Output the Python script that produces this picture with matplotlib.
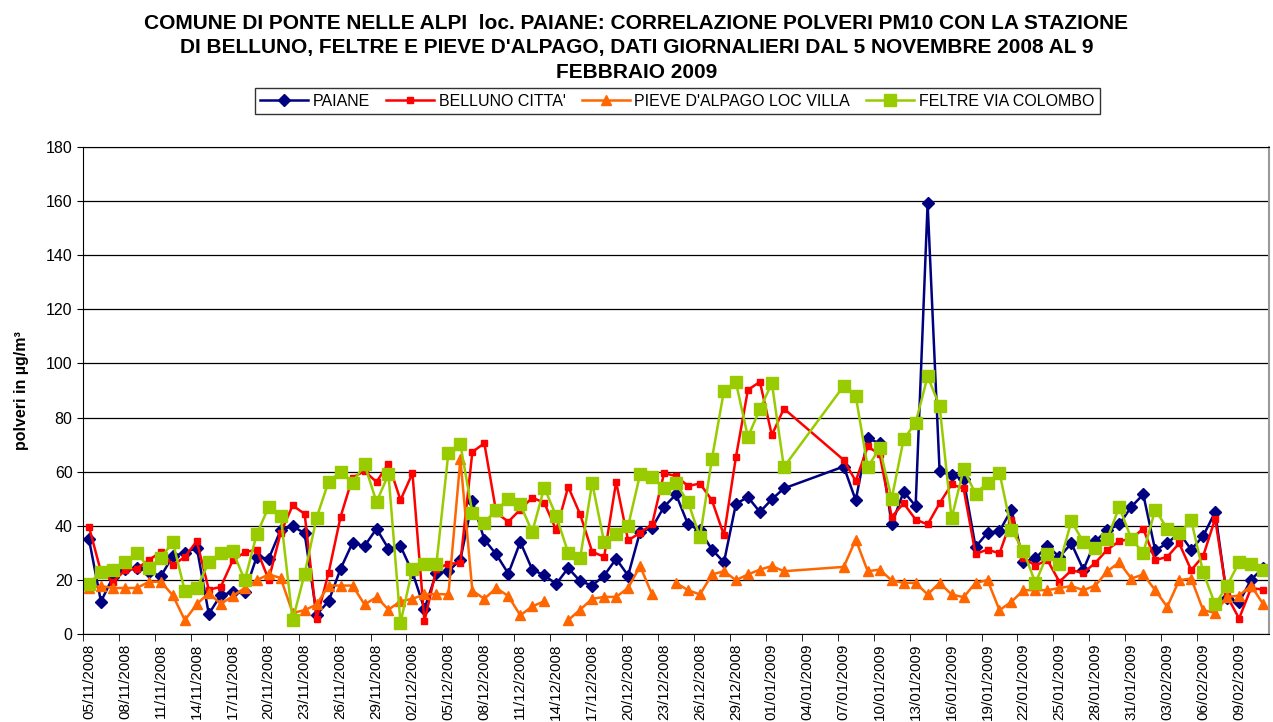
"""
PM10 Paiane vs Belluno / Feltre / Pieve d'Alpago, dati giornalieri 05/11/2008 - 11/02/2009
Salva: out.png
"""

import numpy as np
import pandas as pd
import matplotlib
matplotlib.use('Agg')
import matplotlib.pyplot as plt

plt.rcParams['font.family'] = ['Liberation Sans', 'DejaVu Sans']

# ── Date ──
start = '2008-11-05'
end = '2009-02-11'
missing = ['2009-01-03', '2009-01-04', '2009-01-05', '2009-01-06']   # giorni senza dati
dates = pd.date_range(start, end, freq='D')
dates = dates[~dates.isin(pd.to_datetime(missing))]

paiane = [35, 12, 21, 24, 24.4, 23, 21.4, 28.8, 30, 31.9, 7.4, 14.4, 15.4, 15.4, 28.5, 27.8, 38.4, 39.9, 37.2, 7.2,
          12.1, 24.1, 33.7, 32.5, 38.9, 31.5, 32.5, 22.8, 9.3, 22.6, 23.2, 27.5, 49.1, 34.9, 29.4, 22.3, 34, 23.8, 21.7, 18.5,
          24.4, 19.5, 17.9, 21.6, 27.8, 21.6, 37.8, 39.3, 47, 51.6, 40.5, 38.3, 31.2, 26.5, 48.1, 50.6, 45.1, 49.8, 53.8,
          61.9, 49.4, 72.3, 70.5, 40.5, 52.6, 47.3, 159.2, 60.2, 58.6, 57.2, 32.2, 37.4, 38, 46, 26.5, 28, 32.5, 28.5, 33.5,
          23.8, 34.3, 38.4, 40.5, 47, 51.6, 30.9, 33.5, 37.4, 31.2, 36.2, 45.1, 13.3, 11.7, 20.1, 24.4]

belluno = [39.6, 23, 19.3, 23.5, 24.2, 27.3, 30.4, 25.4, 28.5, 34.3, 16.4, 17.4, 27.2, 30.2, 31.2, 20.1, 37.4, 47.5, 44.4, 5.6,
           22.6, 43.3, 57.8, 60.2, 56.2, 63, 49.5, 59.4, 4.7, 24.1, 25.9, 26.3, 67.3, 70.5, 44.8, 41.5, 46, 50.4, 48.5, 38.4,
           54.4, 44.2, 30.4, 28.5, 56.2, 34.6, 37.4, 40.5, 59.4, 58.4, 54.7, 55.6, 49.4, 36.5, 65.4, 90.2, 93.2, 73.5, 83.3,
           64.3, 56.5, 69.3, 66.4, 43.3, 48.3, 42.3, 40.5, 48.3, 55.3, 53.8, 29.6, 31.2, 29.8, 42.3, 28.1, 25.3, 27.3, 19.3, 23.5,
           22.6, 26.3, 31.2, 34.3, 35.2, 38.9, 27.3, 28.5, 33.5, 23.6, 28.8, 42.6, 14, 5.7, 17, 16.4]

pieve = [17, 17.7, 17, 17, 17, 19.3, 19.3, 14.3, 5.1, 11, 15.2, 11.1, 14, 17, 19.9, 22, 20.7, 7.8, 8.8, 10.9,
         17.9, 17.9, 17.9, 10.9, 13.6, 9, 12.1, 13, 14.6, 14.8, 14.6, 64.6, 16, 13, 17, 14, 6.9, 10.2, 12.1, np.nan,
         5.1, 9, 13, 13.7, 13.7, 17, 25.1, 14.6, np.nan, 18.9, 16.2, 14.6, 22, 23.2, 19.9, 22, 23.8, 25.1, 23.2,
         24.8, 34.9, 23.2, 23.8, 19.8, 18.9, 18.9, 14.6, 18.9, 14.6, 13.6, 18.9, 19.9, 8.8, 11.9, 16.2, 16.2, 16.2, 17, 17.7,
         16.2, 17.9, 23.2, 26.5, 20.5, 22, 16.2, 10, 19.9, 20.5, 8.8, 7.8, 13.7, 14.2, 17.9, 11.1]

feltre = [18.6, 23, 23.8, 26.5, 30, 24.4, 28.1, 34, 15.9, 17, 26.5, 30, 30.6, 19.9, 36.8, 47, 43.6, 5.1, 22.2, 43,
          56.3, 59.9, 55.9, 62.7, 48.8, 59, 4.1, 24.1, 25.9, 25.9, 67, 70.1, 44.8, 41.1, 46, 49.8, 47.9, 37.7, 54.1, 43.6,
          30, 28.1, 55.9, 34, 37, 39.9, 59, 58, 54.1, 55.7, 48.8, 35.8, 64.8, 89.9, 93, 72.8, 83.1, 92.7, 61.7,
          91.7, 88, 61.7, 68.6, 50, 72, 78.1, 95.2, 84.3, 42.7, 60.9, 51.9, 55.9, 59.6, 38.6, 30.6, 18.9, 29.4, 25.7, 41.7,
          34, 31.9, 35.2, 47, 35.2, 30, 46, 38.9, 37.2, 42.1, 22.8, 10.9, 17.9, 26.5, 26, 23.6]

titolo = ("COMUNE DI PONTE NELLE ALPI  loc. PAIANE: CORRELAZIONE POLVERI PM10 CON LA STAZIONE\n"
          "DI BELLUNO, FELTRE E PIEVE D'ALPAGO, DATI GIORNALIERI DAL 5 NOVEMBRE 2008 AL 9\n"
          "FEBBRAIO 2009")

# ── Figura ──
fig = plt.figure(figsize=(12.73, 7.22), dpi=100)
ax = fig.add_axes([0.0652, 0.1219, 0.9317, 0.6745])

l1, = ax.plot(dates, paiane, color='#000080', lw=1.8, marker='D', ms=6.5, label='PAIANE')
l2, = ax.plot(dates, belluno, color='#FF0000', lw=1.8, marker='s', ms=5, label="BELLUNO CITTA'")
l3, = ax.plot(dates, pieve, color='#FF6600', lw=1.8, marker='^', ms=6.5, label="PIEVE D'ALPAGO LOC VILLA")
l4, = ax.plot(dates, feltre, color='#99CC00', lw=1.8, marker='s', ms=8, label='FELTRE VIA COLOMBO')

# assi
half = pd.Timedelta(hours=12)
ax.set_xlim(pd.Timestamp(start) - half, pd.Timestamp(end) + half)
ax.set_ylim(0, 180)
ax.set_yticks(np.arange(0, 181, 20))
ax.tick_params(axis='y', labelsize=11.5, length=4, direction='out')
ax.grid(True, axis='y', color='black', lw=0.9)

tick_dates = pd.date_range(start, '2009-02-09', freq='3D')
ax.set_xticks(tick_dates)
ax.set_xticklabels([d.strftime('%d/%m/%Y') for d in tick_dates], rotation=90, fontsize=11)
ax.set_xticks(tick_dates - half, minor=True)
ax.tick_params(axis='x', which='major', length=0, pad=7)
ax.tick_params(axis='x', which='minor', length=5, direction='out')

ax.set_ylabel('polveri in µg/m³', fontsize=11.5, fontweight='bold', labelpad=12)

for s in ['left', 'bottom', 'top']:
    ax.spines[s].set_color('black')
ax.spines['right'].set_color('#999999')
ax.spines['right'].set_linewidth(1.5)

fig.text(0.5, 0.981, titolo, ha='center', va='top', fontsize=15,
         fontweight='bold', linespacing=1.36)

leg = fig.legend(handles=[l1, l2, l3, l4], loc='center', bbox_to_anchor=(0.532, 0.860),
                 ncol=4, fontsize=11.5, frameon=True, fancybox=False, edgecolor='black',
                 borderpad=0.35, handlelength=3, handletextpad=0.3, columnspacing=1.0,
                 borderaxespad=0)
leg.get_frame().set_linewidth(1)

fig.savefig('out.png', dpi=100)
